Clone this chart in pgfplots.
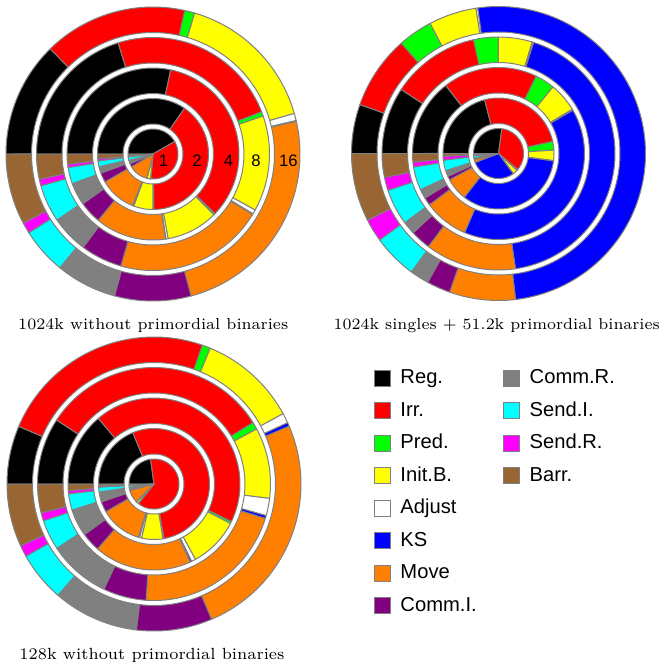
\documentclass[border=0pt]{standalone}
\usepackage{graphicx}
\usepackage{pgfplots}
\usepackage{pgfplotstable}
\pgfplotsset{compat=1.18}
\usepackage{fontspec}
\newfontfamily\legfont{Liberation Sans}

\definecolor{cat0}{RGB}{0,0,0}
\definecolor{cat1}{RGB}{255,0,0}
\definecolor{cat2}{RGB}{0,255,0}
\definecolor{cat3}{RGB}{255,255,0}
\definecolor{cat4}{RGB}{255,255,255}
\definecolor{cat5}{RGB}{0,0,255}
\definecolor{cat6}{RGB}{255,128,0}
\definecolor{cat7}{RGB}{128,0,128}
\definecolor{cat8}{RGB}{128,128,128}
\definecolor{cat9}{RGB}{0,255,255}
\definecolor{cat10}{RGB}{255,0,255}
\definecolor{cat11}{RGB}{153,102,51}
\definecolor{edge}{RGB}{128,128,128}

% shares (percent) per category and ring (p = number of processes)
\pgfplotstableread{
cat     p1    p2    p4    p8    p16
Reg     41.7  34.7  28.3  20.2  12.7
Irr     34.7  40.3  33.9  24.0  15.8
Pred    0.3   0.3   0.3   0.6   1.1
InitB   2.2   5.6   9.7   13.3  16.0
Adjust  0.1   0.3   0.4   0.6   0.8
KS      0     0.1   0.1   0.1   0.1
Move    12.5  10.6  13.3  20.8  24.4
CommI   2.2   2.8   4.2   5.8   8.4
CommR   2.2   1.9   4.2   5.2   6.7
SendI   2.2   1.7   3.1   5.2   5.1
SendR   0.6   0.6   0.6   0.9   1.2
Barr    1.3   1.4   1.9   3.5   7.8
}\tabA
\pgfplotstableread{
cat     p1    p2    p4    p8    p16
Reg     27.2  20.9  14.5  9.25  5.4
Irr     33.9  25.5  17.7  12.3  8.1
Pred    0.8   2.5   3.7   3.4   3.8
InitB   3.1   3.0   5.5   4.7   5.25
Adjust  0.1   0.1   0.2   0.2   0.2
KS      29.2  33.3  39.8  42.75 50.4
Move    1.9   6.6   8.4   12.6  7.25
CommI   0.6   1.1   1.5   2.8   2.6
CommR   0.6   1.7   1.75  1.8   2.1
SendI   1.4   3.1   4.4   5.0   4.9
SendR   0.6   1.1   0.9   1.8   2.5
Barr    0.7   0.8   1.6   3.3   7.5
}\tabB
\pgfplotstableread{
cat     p1    p2    p4    p8    p16
Reg     22.8  18.8  13.8  9.25  6.4
Irr     62.8  53.4  43.4  31.9  23.9
Pred    0.3   0.3   0.4   1.0   0.9
InitB   1.4   6.2   9.4   9.8   10.8
Adjust  0.1   0.6   0.8   2.4   1.1
KS      0.1   0.3   0.3   0.4   0.4
Move    8.3   12.2  18.3  21.3  25.0
CommI   0.8   3.1   3.6   6.0   8.3
CommR   1.1   2.9   5.1   8.6   9.4
SendI   1.1   1.4   3.1   4.2   5.5
SendR   0.3   0.4   0.6   1.1   1.25
Barr    0.8   0.5   1.2   4.0   6.9
}\tabC

% one ring: #1 table, #2 column, #3 inner radius, #4 outer radius
\newcommand\ring[4]{%
  \def\tot{0}%
  \pgfplotsforeachungrouped \i in {0,...,11}{%
    \pgfplotstablegetelem{\i}{#2}\of{#1}%
    \pgfmathsetmacro\tot{\tot+\pgfplotsretval}%
  }%
  \def\cum{0}%
  \pgfplotsforeachungrouped \i in {0,...,11}{%
    \pgfplotstablegetelem{\i}{#2}\of{#1}%
    \let\val\pgfplotsretval
    \pgfmathsetmacro\aone{180-360*(\cum/\tot)}%
    \pgfmathsetmacro\cum{\cum+\val}%
    \pgfmathsetmacro\atwo{180-360*(\cum/\tot)}%
    \pgfmathtruncatemacro\nn{max(2,ceil(abs(\aone-\atwo)/2))}%
    \pgfmathtruncatemacro\ss{3*\nn+1}%
    \pgfmathtruncatemacro\pos{\val>0}%
    \ifnum\pos=1
      \edef\tmp{\noexpand\addplot[fill=cat\i,draw=edge,line width=0.4bp,line join=round,domain=0:3,samples=\ss,forget plot]
        ({(#4+(#3-#4)*min(max(x-1,0),1))*cos(\aone+(\atwo-\aone)*(min(x,1)-max(x-2,0)))},
         {(#4+(#3-#4)*min(max(x-1,0),1))*sin(\aone+(\atwo-\aone)*(min(x,1)-max(x-2,0)))}) -- cycle;}%
      \tmp
    \fi
  }%
}
\newcommand\allrings[1]{%
  \ring{#1}{p1}{0}{25}%
  \ring{#1}{p2}{30}{55.5}%
  \ring{#1}{p4}{60.5}{86}%
  \ring{#1}{p8}{91}{116.5}%
  \ring{#1}{p16}{121.5}{147}%
}
\pgfplotsset{donut/.style={anchor=center, scale only axis, width=120bp, height=120bp,
  xmin=-150, xmax=150, ymin=-150, ymax=150, hide axis, clip=false}}

\begin{document}
\begin{tikzpicture}
\useasboundingbox (0,0) rectangle (265.6bp,-264.8bp);

\begin{axis}[donut, at={(61.2bp,-61.6bp)}]
\allrings{\tabA}
\begin{scope}[font=\legfont\fontsize{6.7}{8}\selectfont]
\node at (axis cs:10.5,-7) {1};
\node at (axis cs:44,-7) {2};
\node at (axis cs:75.5,-7) {4};
\node at (axis cs:103,-7) {8};
\node at (axis cs:135.5,-7) {16};
\end{scope}
\end{axis}

\begin{axis}[donut, at={(199.4bp,-61.4bp)}]
\allrings{\tabB}
\end{axis}

\begin{axis}[donut, at={(61.6bp,-193.6bp)}]
\allrings{\tabC}
\end{axis}

\begin{axis}[at={(149.2bp,-147.2bp)}, anchor=north west, scale only axis, width=1bp, height=1bp,
  hide axis, xmin=0, xmax=1, ymin=0, ymax=1,
  legend columns=2, legend cell align=left,
  legend image code/.code={\draw[#1,draw=edge,line width=0.4bp] (0bp,-3.2bp) rectangle (6.4bp,3.2bp);},
  legend style={at={(0,1)}, anchor=north west, draw=none, fill=none, inner sep=0pt,
    font=\legfont\fontsize{8.1}{9}\selectfont, row sep=5.2bp, column sep=4.0bp,
    nodes={inner sep=0pt, text height=6bp, text depth=1.8bp},
    /tikz/every even column/.append style={column sep=10.4bp}}]
\addlegendimage{fill=cat0}\addlegendentry{Reg.}
\addlegendimage{fill=cat8}\addlegendentry{Comm.R.}
\addlegendimage{fill=cat1}\addlegendentry{Irr.}
\addlegendimage{fill=cat9}\addlegendentry{Send.I.}
\addlegendimage{fill=cat2}\addlegendentry{Pred.}
\addlegendimage{fill=cat10}\addlegendentry{Send.R.}
\addlegendimage{fill=cat3}\addlegendentry{Init.B.}
\addlegendimage{fill=cat11}\addlegendentry{Barr.}
\addlegendimage{fill=cat4}\addlegendentry{Adjust}
\addlegendimage{empty legend}\addlegendentry{}
\addlegendimage{fill=cat5}\addlegendentry{KS}
\addlegendimage{empty legend}\addlegendentry{}
\addlegendimage{fill=cat6}\addlegendentry{Move}
\addlegendimage{empty legend}\addlegendentry{}
\addlegendimage{fill=cat7}\addlegendentry{Comm.I.}
\end{axis}

\begin{scope}[font=\fontsize{6.8}{8}\selectfont]
\node[anchor=base] at (61.3bp,-131.6bp) {\resizebox{108bp}{!}{1024k without primordial binaries}};
\node[anchor=base] at (198.7bp,-131.6bp) {\resizebox{130.4bp}{!}{1024k singles + 51.2k primordial binaries}};
\node[anchor=base] at (60.8bp,-263.6bp) {\resizebox{106bp}{!}{128k without primordial binaries}};
\end{scope}
\end{tikzpicture}
\end{document}
